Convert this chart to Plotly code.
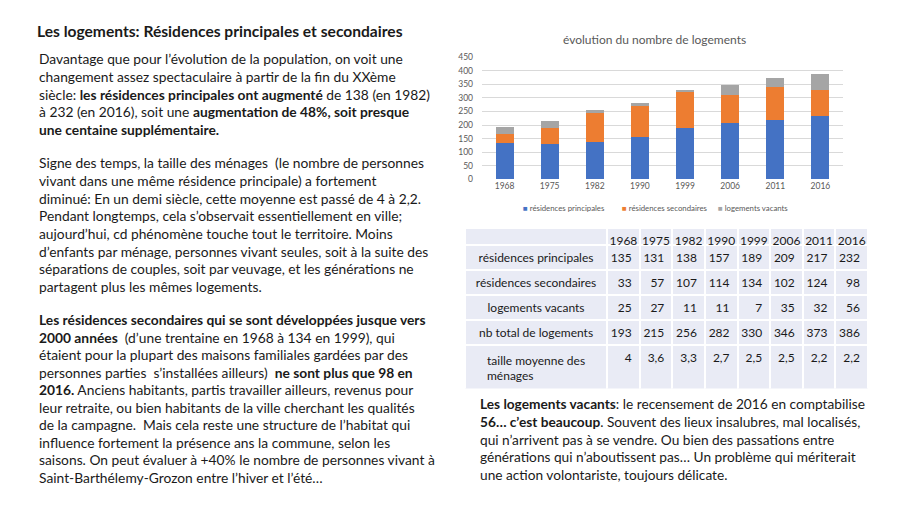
import plotly.graph_objects as go

W, H = 898, 505

years = ["1968", "1975", "1982", "1990", "1999", "2006", "2011", "2016"]
res_principales = [135, 131, 138, 157, 189, 209, 217, 232]
res_secondaires = [33, 57, 107, 114, 134, 102, 124, 98]
logements_vacants = [25, 27, 11, 11, 7, 35, 32, 56]
total_logements = [193, 215, 256, 282, 330, 346, 373, 386]
taille_menages = ["4", "3,6", "3,3", "2,7", "2,5", "2,5", "2,2", "2,2"]
row_labels = ["résidences principales", "résidences secondaires", "logements vacants",
              "nb total de logements", "taille moyenne des<br>ménages"]
series_names = ["résidences principales", "résidences secondaires", "logements vacants"]
y_ticks = [0, 50, 100, 150, 200, 250, 300, 350, 400, 450]

FONT = "Lato"
TXT = "#1a1a1a"
GREY = "#595959"
COLORS = ["#4472C4", "#ED7D31", "#A5A5A5"]


def px(x):
    return x / W


def py(y):
    return 1 - y / H


fig = go.Figure()
for name, vals, c in zip(series_names, [res_principales, res_secondaires, logements_vacants], COLORS):
    fig.add_trace(go.Bar(x=years, y=vals, name=name, showlegend=False,
                         marker=dict(color=c, line=dict(width=0))))

# table
cells_values = [row_labels] + [
    [res_principales[i], res_secondaires[i], logements_vacants[i], total_logements[i], taille_menages[i]]
    for i in range(len(years))
]
fig.add_trace(go.Table(
    domain=dict(x=[px(465), px(868)], y=[py(392), py(227)]),
    columnwidth=[142] + [32.6] * 8,
    header=dict(values=[""] + years, fill_color="#E9EBF5", line=dict(color="white", width=2),
                align="center", height=17,
                font=dict(family=FONT, size=12, color=TXT)),
    cells=dict(values=cells_values, fill_color="#E9EBF5", line=dict(color="white", width=2),
               align=["center"] + ["right"] * 8, height=25,
               font=dict(family=FONT, size=12, color=TXT)),
))

fig.update_layout(
    width=W, height=H, margin=dict(l=0, r=0, t=0, b=0),
    paper_bgcolor="white", plot_bgcolor="white",
    barmode="stack", bargap=0.6,
    font=dict(family=FONT, color=GREY),
    xaxis=dict(domain=[px(482), px(843)], showgrid=False, showline=False, ticks="",
               tickfont=dict(size=8.5, color=GREY), anchor="y"),
    yaxis=dict(domain=[py(178), py(53)], range=[0, 450], tickvals=y_ticks,
               gridcolor="#D9D9D9", gridwidth=1, zeroline=False, showline=False,
               tickfont=dict(size=8.5, color=GREY), ticks="", ticklabelstandoff=8),
    showlegend=False,
)

annots = []
annots.append(dict(text="évolution du nombre de logements", x=px(654), y=py(35),
                   xanchor="center", yanchor="middle",
                   font=dict(size=12, color=GREY, family=FONT)))

# legend as text entries
legend_x = [521, 620, 716]
for name, c, lx in zip(series_names, COLORS, legend_x):
    annots.append(dict(text=f"<span style='color:{c}'>■</span> {name}", x=px(lx), y=py(207),
                       xanchor="left", yanchor="middle", font=dict(size=7.8, color=GREY, family=FONT)))

annots.append(dict(text="<b>Les logements: Résidences principales et secondaires</b>",
                   x=px(35), y=py(27), xanchor="left", yanchor="middle",
                   font=dict(size=15.6, color=TXT, family=FONT)))

p1 = ["Davantage que pour l’évolution de la population, on voit une",
      "changement assez spectaculaire à partir de la fin du XXème",
      "siècle: <b>les résidences principales ont augmenté</b> de 138 (en 1982)",
      "à 232 (en 2016), soit une <b>augmentation de 48%, soit presque</b>",
      "<b>une centaine supplémentaire.</b>"]
p2 = ["Signe des temps, la taille des ménages  (le nombre de personnes",
      "vivant dans une même résidence principale) a fortement",
      "diminué: En un demi siècle, cette moyenne est passé de 4 à 2,2.",
      "Pendant longtemps, cela s’observait essentiellement en ville;",
      "aujourd’hui, cd phénomène touche tout le territoire. Moins",
      "d’enfants par ménage, personnes vivant seules, soit à la suite des",
      "séparations de couples, soit par veuvage, et les générations ne",
      "partagent plus les mêmes logements."]
p3 = ["<b>Les résidences secondaires qui se sont développées jusque vers</b>",
      "<b>2000 années</b>  (d’une trentaine en 1968 à 134 en 1999), qui",
      "étaient pour la plupart des maisons familiales gardées par des",
      "personnes parties  s’installées ailleurs)  <b>ne sont plus que 98 en</b>",
      "<b>2016.</b> Anciens habitants, partis travailler ailleurs, revenus pour",
      "leur retraite, ou bien habitants de la ville cherchant les qualités",
      "de la campagne.  Mais cela reste une structure de l’habitat qui",
      "influence fortement la présence ans la commune, selon les",
      "saisons. On peut évaluer à +40% le nombre de personnes vivant à",
      "Saint-Barthélemy-Grozon entre l’hiver et l’été…"]
p4 = ["<b>Les logements vacants</b>: le recensement de 2016 en comptabilise",
      "<b>56… c’est beaucoup</b>. Souvent des lieux insalubres, mal localisés,",
      "qui n’arrivent pas à se vendre. Ou bien des passations entre",
      "générations qui n’aboutissent pas… Un problème qui mériterait",
      "une action volontariste, toujours délicate."]

for lines, x, y0, dy, size in [(p1, 37, 55, 18.0, 13.8), (p2, 37, 161, 18.0, 13.8),
                               (p3, 37, 321, 17.85, 13.8), (p4, 478, 407, 18.0, 13.7)]:
    for i, t in enumerate(lines):
        annots.append(dict(text=t, x=px(x), y=py(y0 + i * dy), xanchor="left", yanchor="middle",
                           align="left", font=dict(size=size, color=TXT, family=FONT)))

for a in annots:
    a.update(xref="paper", yref="paper", showarrow=False)
fig.update_layout(annotations=annots)

fig.write_html("out.html", config={"displayModeBar": False},
               post_script="document.body.style.margin='0';")
